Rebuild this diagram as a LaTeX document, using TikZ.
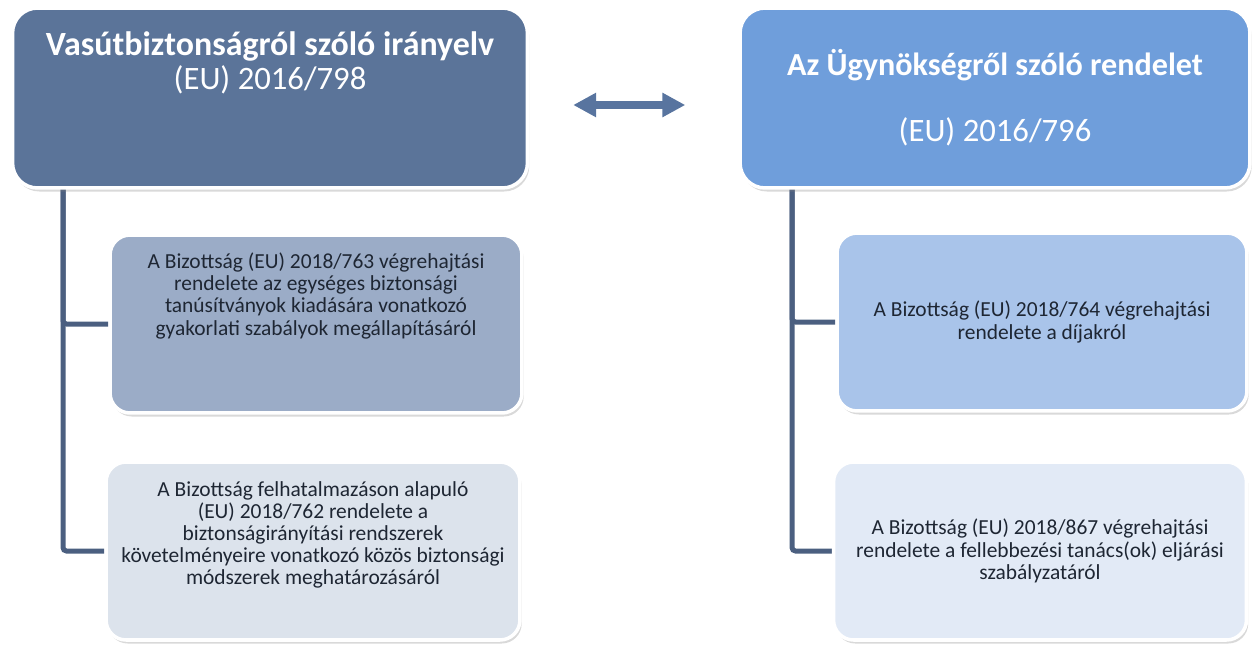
\documentclass[tikz,border=0pt]{standalone}
\usepackage{fontspec}
\setmainfont{Carlito}
\usetikzlibrary{arrows.meta,shadows,backgrounds}

\definecolor{dirblue}{HTML}{5B7499}
\definecolor{regblue}{HTML}{6F9EDB}
\definecolor{dirsubA}{HTML}{9BACC7}
\definecolor{dirsubB}{HTML}{DCE3EC}
\definecolor{regsubA}{HTML}{A9C4EA}
\definecolor{regsubB}{HTML}{E2EAF6}
\definecolor{linkblue}{HTML}{4B5F80}
\definecolor{arrowblue}{HTML}{58749F}
\definecolor{subtext}{HTML}{1E2633}

\begin{document}
\begin{tikzpicture}[x=0.02cm,y=-0.02cm,
        box/.style={draw=white,line width=2pt,align=center,
            drop shadow={shadow xshift=1pt,shadow yshift=-2pt,opacity=0.3}},
        head/.style={box,rounded corners=0.5cm,text=white,minimum height=3.6cm,
            font=\fontsize{18.6}{19}\selectfont},
        sub/.style={box,rounded corners=0.4cm,text=subtext,minimum height=3.56cm,
            font=\fontsize{12.2}{12.6}\selectfont},
        link/.style={draw=linkblue,line width=0.1cm,rounded corners=2pt},
        biarrow/.style={draw=arrowblue,line width=0.16cm,
            {Triangle[length=0.46cm,width=0.46cm]}-{Triangle[length=0.46cm,width=0.46cm]}}]
        \useasboundingbox (0,0) rectangle (1253,646);
        % Directive and its acts
        \node[head,fill=dirblue,minimum width=10.3cm,text depth=1.5cm] (dir) at (270,98)
            {\textbf{\fontsize{19.3}{19}\selectfont Vasútbiztonságról szóló irányelv}\\(EU) 2016/798};
        \node[sub,fill=dirsubA,minimum width=8.24cm,text depth=1.2cm] (l1) at (316,324)
            {A Bizottság (EU) 2018/763 végrehajtási\\rendelete az egységes biztonsági\\tanúsítványok kiadására vonatkozó\\gyakorlati szabályok megállapításáról};
        \node[sub,fill=dirsubB,minimum width=8.28cm,text depth=0.72cm] (l2) at (313,551)
            {A Bizottság felhatalmazáson alapuló\\(EU) 2018/762 rendelete a\\biztonságirányítási rendszerek\\követelményeire vonatkozó közös biztonsági\\módszerek meghatározásáról};
        % Regulation and its acts
        \node[head,fill=regblue,minimum width=10.2cm] (reg) at (995,98)
            {\textbf{\fontsize{18.3}{19}\selectfont Az Ügynökségről szóló rendelet}\\[0.65cm](EU) 2016/796};
        \node[sub,fill=regsubA,minimum width=8.2cm] (r1) at (1042,322)
            {A Bizottság (EU) 2018/764 végrehajtási\\rendelete a díjakról};
        \node[sub,fill=regsubB,minimum width=8.26cm] (r2) at (1040,551)
            {A Bizottság (EU) 2018/867 végrehajtási\\rendelete a fellebbezési tanács(ok) eljárási\\szabályzatáról};
        % Tree lines
        \coordinate (ltrunk) at (63,188);
        \coordinate (rtrunk) at (792,188);
        \begin{scope}[on background layer]
            \foreach \b in {l1,l2} {
                \draw[link] (ltrunk) |- (\b.west);
            }
            \foreach \b in {r1,r2} {
                \draw[link] (rtrunk) |- (\b.west);
            }
        \end{scope}
        % Link between the two
        \draw[biarrow] ([xshift=0.88cm,yshift=-0.14cm]dir.east) -- ([xshift=-1.06cm,yshift=-0.14cm]reg.west);
    \end{tikzpicture}
\end{document}
